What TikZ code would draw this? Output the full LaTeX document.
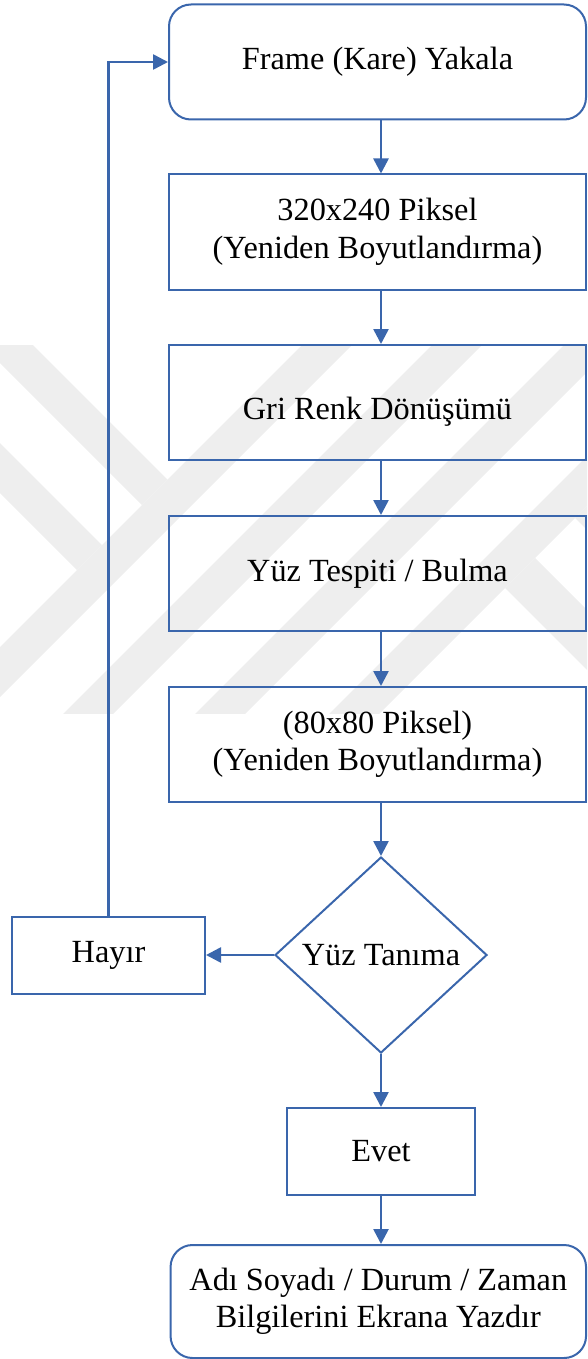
\documentclass[tikz,border=0pt]{standalone}
\usepackage{fontspec}
\setmainfont{Liberation Serif}
\usetikzlibrary{shapes.geometric,arrows.meta,calc}
\definecolor{flow}{HTML}{3A66AC}
\definecolor{embleme}{RGB}{238,238,238}

\begin{document}
\begin{tikzpicture}[x=1pt,y=-1pt,
  every node/.style={font=\fontsize{32.3}{37.5}\selectfont, text=black, align=center},
  stepbox/.style={draw=flow, line width=2pt, inner sep=0pt,
                  minimum width=417pt, minimum height=115pt},
  roundbox/.style={stepbox, rounded corners=22pt},
  choice/.style={draw=flow, line width=2pt, diamond, inner sep=0pt,
                 minimum width=212pt, minimum height=196pt},
  link/.style={draw=flow, line width=2.6pt, -{Triangle[length=15pt,width=15pt]}},
  band/.style={fill=embleme}
]
\useasboundingbox (0,0) rectangle (587,1359);

% faint background emblem made of diagonal bands
\begin{scope}
  \clip (0,345) rectangle (587,713);
  \foreach \da/\db in {647/697, 777/827, 909/959, 1043/1093}
    \fill[band] ({\da-300},300) -- ({\db-300},300) -- ({\db-760},760) -- ({\da-760},760) -- cycle;
  \fill[band] (-100,212) -- (167.5,479.5) -- (142,505) -- (-100,263) -- cycle;
  \fill[band] (-100,343) -- (102,545) -- (77,570) -- (-100,393) -- cycle;
  \fill[band] (535,558) -- (700,723) -- (700,783) -- (505,588) -- cycle;
  \fill[band] (600,493) -- (700,593) -- (700,643) -- (575,518) -- cycle;
\end{scope}

% process steps
\node[roundbox] (grab)   at (377.5,62)    {Frame (Kare) Yakala};
\node[stepbox]  (resize) at (377.5,232)   {320x240 Piksel\\(Yeniden Boyutlandırma)};
\node[stepbox, text height=34pt, text depth=0pt] (gray) at (377.5,402.5) {Gri Renk Dönüşümü};
\node[stepbox]  (detect) at (377.5,573.5) {Yüz Tespiti / Bulma};
\node[stepbox]  (crop)   at (377.5,744.5) {(80x80 Piksel)\\(Yeniden Boyutlandırma)};
\node[choice]   (recog)  at (381,955)     {Yüz Tanıma};
\node[stepbox, minimum width=193pt, minimum height=77pt] (no)  at (108.5,955.5) {Hayır};
\node[stepbox, minimum width=188pt, minimum height=87pt] (yes) at (381,1151.5)  {Evet};
\node[roundbox, minimum width=415.5pt, minimum height=113pt] (show) at (378.3,1301.5)
  {Adı Soyadı / Durum / Zaman\\Bilgilerini Ekrana Yazdır};

% connectors
\coordinate (col) at (381,0);
\draw[link] (grab.south -| col)   -- (resize.north -| col);
\draw[link] (resize.south -| col) -- (gray.north -| col);
\draw[link] (gray.south -| col)   -- (detect.north -| col);
\draw[link] (detect.south -| col) -- (crop.north -| col);
\draw[link] (crop.south -| col)   -- (recog.north);
\draw[link] (recog.west) -- (recog.west -| no.east);
\draw[link] (recog.south) -- (recog.south |- yes.north);
\draw[link] (yes.south -| col) -- (show.north -| col);
\draw[link] (no.north) |- (grab.west);
\end{tikzpicture}
\end{document}
